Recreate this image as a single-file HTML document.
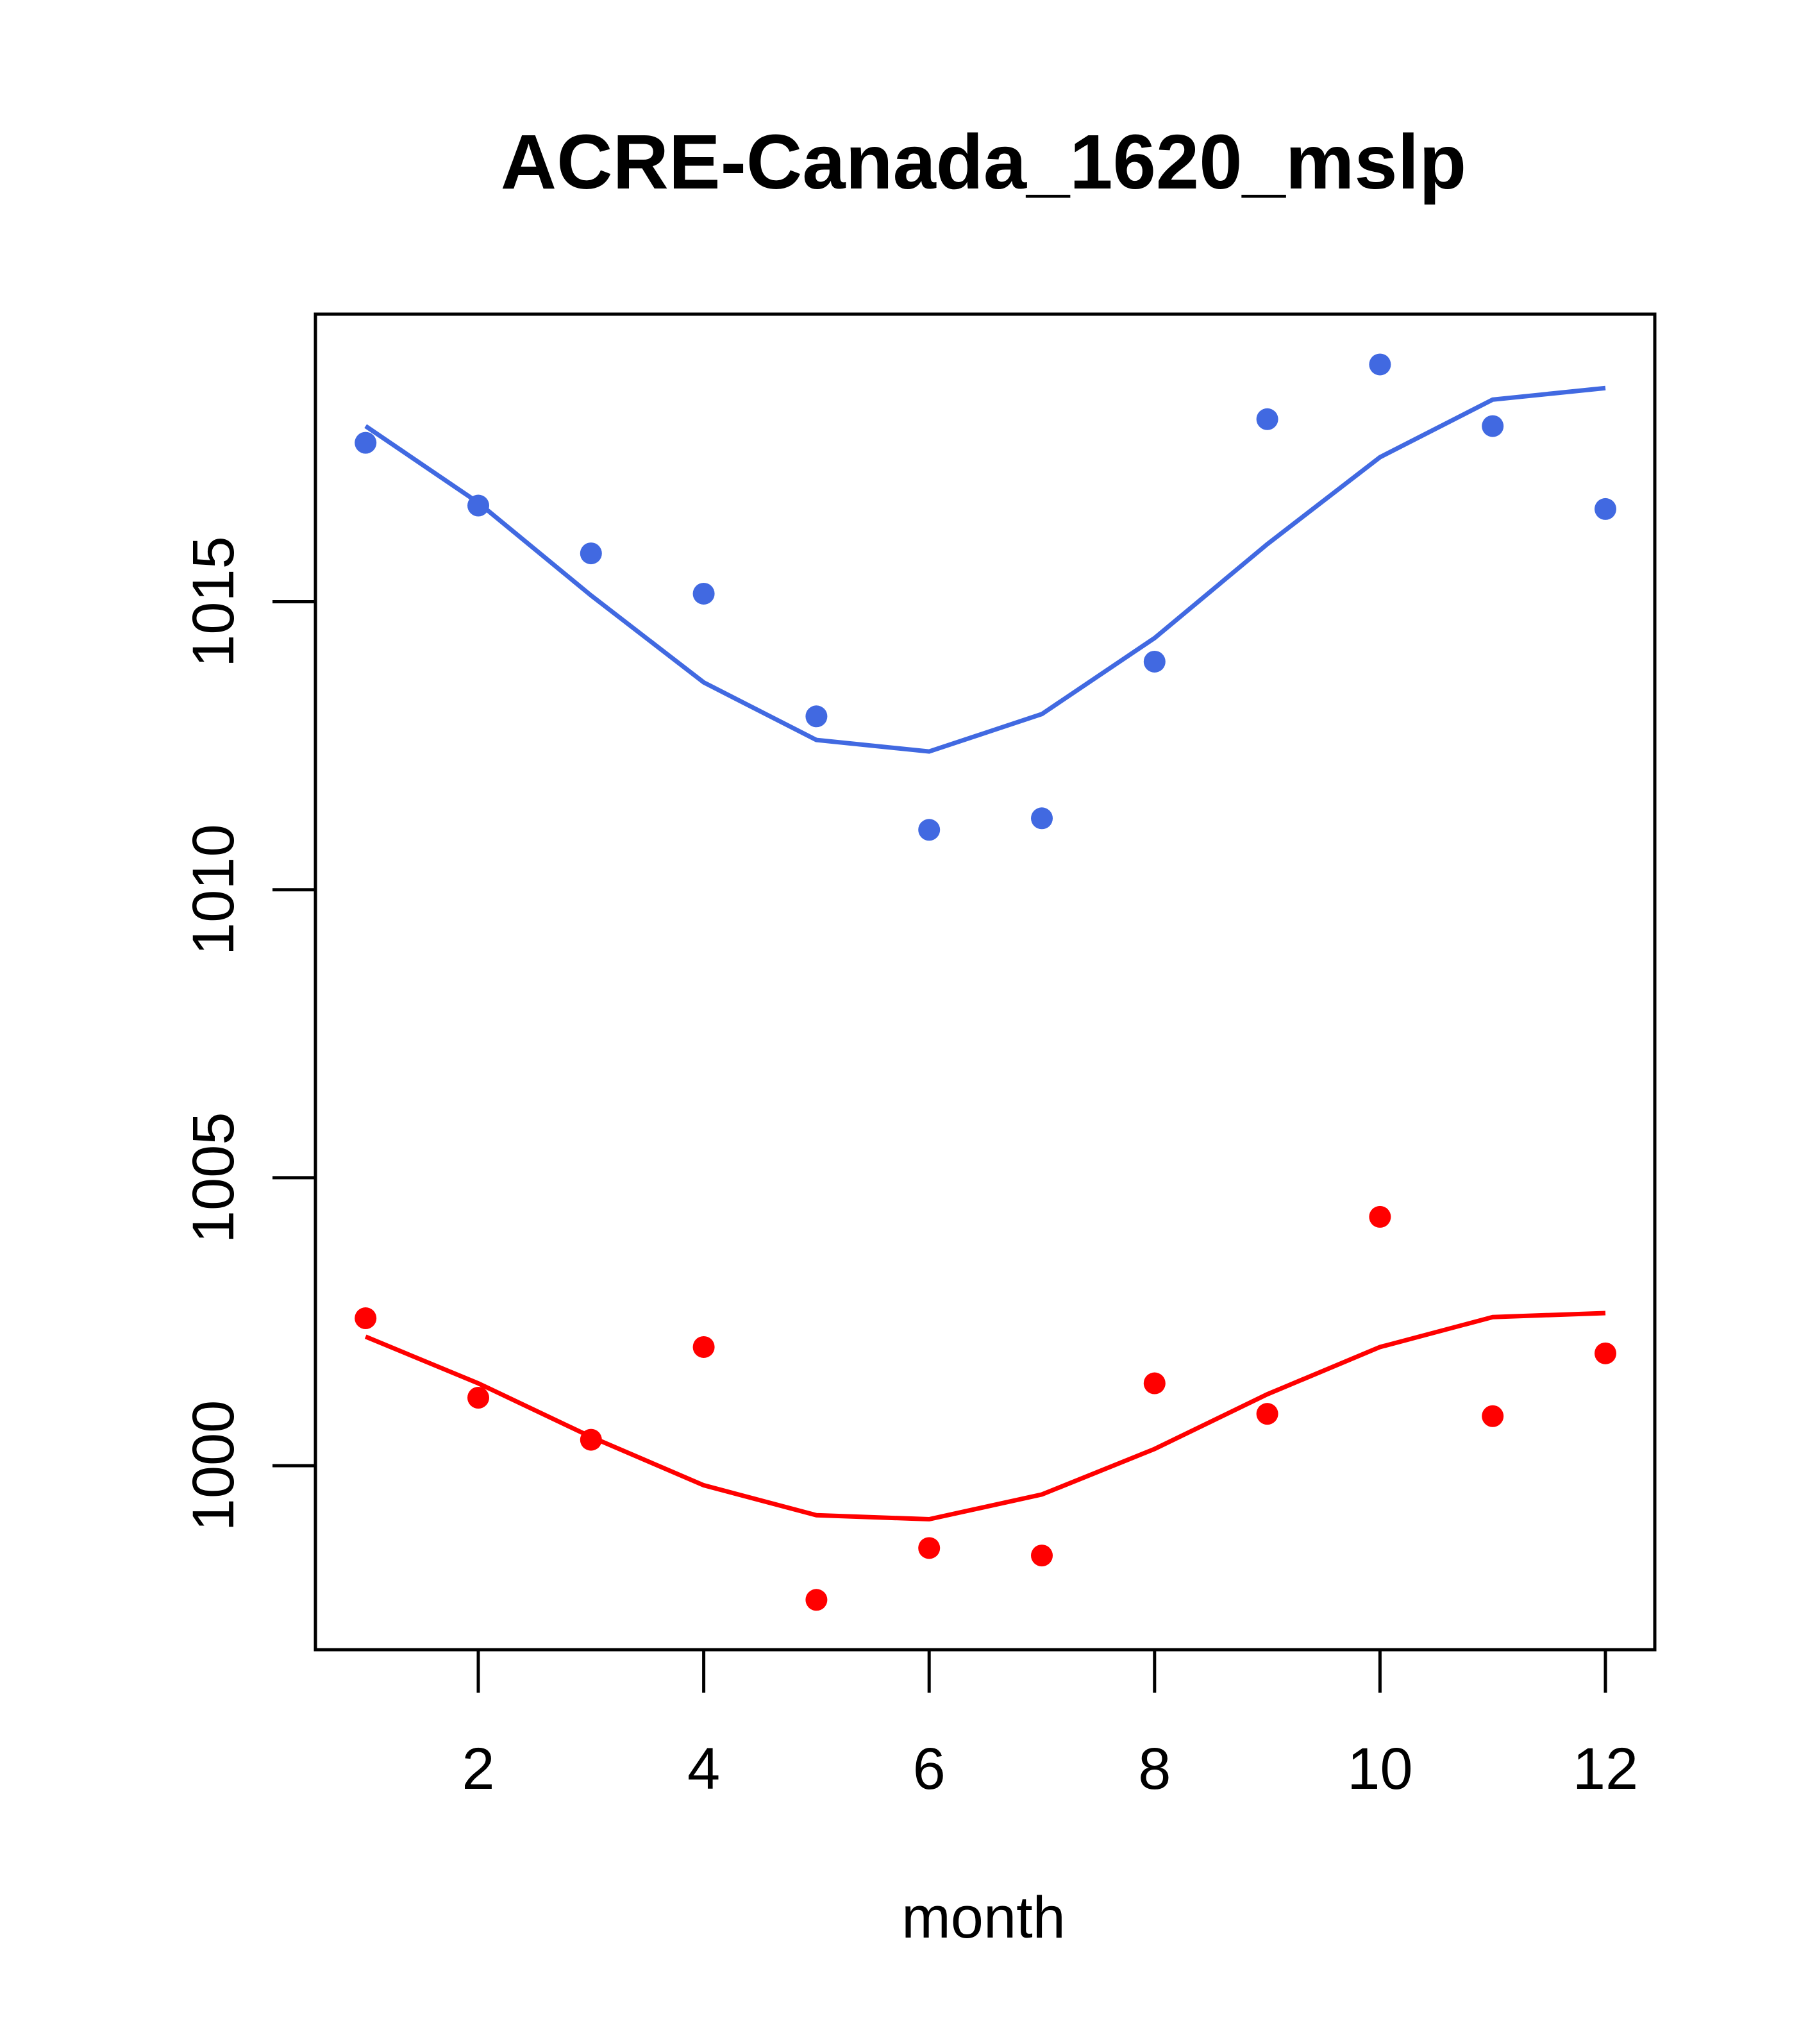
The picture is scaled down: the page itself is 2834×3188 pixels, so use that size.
<!DOCTYPE html>
<html><head><meta charset="utf-8"><style>html,body{margin:0;padding:0;background:#fff}svg{display:block}</style></head>
<body>
<svg id="chart" width="2834" height="3188" xmlns="http://www.w3.org/2000/svg" font-family="Liberation Sans, sans-serif">
<rect width="2834" height="3188" fill="#fff"/>
<text x="1534" y="294" font-size="121" font-weight="bold" text-anchor="middle">ACRE-Canada_1620_mslp</text>
<rect x="492" y="490" width="2089" height="2083" fill="none" stroke="#000" stroke-width="5"/>
<text x="1534" y="3022" font-size="92" text-anchor="middle">month</text>
<g id="xaxis"></g>
<g id="yaxis"></g>
<g id="series"></g>
</svg>
<script>
const months=[1,2,3,4,5,6,7,8,9,10,11,12];
const bluePoints=[1017.76,1016.67,1015.84,1015.14,1013.01,1011.04,1011.24,1013.96,1018.17,1019.12,1018.05,1016.61];
const blueLine=[1018.05,1016.72,1015.11,1013.60,1012.60,1012.40,1013.05,1014.37,1016.0,1017.51,1018.51,1018.71];
const redPoints=[1002.56,1001.18,1000.45,1002.06,997.67,998.57,998.44,1001.43,1000.90,1004.32,1000.86,1001.95];
const redLine=[1002.24,1001.43,1000.50,999.66,999.14,999.07,999.50,1000.29,1001.24,1002.06,1002.58,1002.65];
const xTicks=[2,4,6,8,10,12];
const yTicks=[1000,1005,1010,1015];
const NS="http://www.w3.org/2000/svg";
const X=m=>746+(m-2)*175.8;
const Y=v=>2286-(v-1000)*89.83;
function mk(t,a,p){const e=document.createElementNS(NS,t);for(const k in a)e.setAttribute(k,a[k]);p.appendChild(e);return e;}
const xa=document.getElementById('xaxis'),ya=document.getElementById('yaxis'),sg=document.getElementById('series');
xTicks.forEach(t=>{
  const l=mk('line',{x1:X(t),x2:X(t),y1:2573,y2:2640,stroke:'#000','stroke-width':5},xa);
  
  
  const tx=mk('text',{x:X(t),y:2790,'font-size':92,'text-anchor':'middle'},xa);
  tx.textContent=t;
  
  
});
yTicks.forEach(t=>{
  const l=mk('line',{x1:425,x2:492,y1:Y(t),y2:Y(t),stroke:'#000','stroke-width':5},ya);
  
  
  const tx=mk('text',{x:0,y:0,'font-size':92,'text-anchor':'middle',transform:`translate(364,${Y(t)}) rotate(-90)`},ya);
  tx.textContent=t;
  
  
});
function series(pts,line,col,name){
  const pl=mk('polyline',{points:line.map((v,i)=>X(months[i])+','+Y(v)).join(' '),fill:'none',stroke:col,'stroke-width':7},sg);
  
  
  pts.forEach((v,i)=>{
    const c=mk('circle',{cx:X(months[i]),cy:Y(v),r:17,fill:col},sg);
    
    
  });
}
series(bluePoints,blueLine,'#4169e1','blue');
series(redPoints,redLine,'#ff0000','red');
</script>
</body></html>
